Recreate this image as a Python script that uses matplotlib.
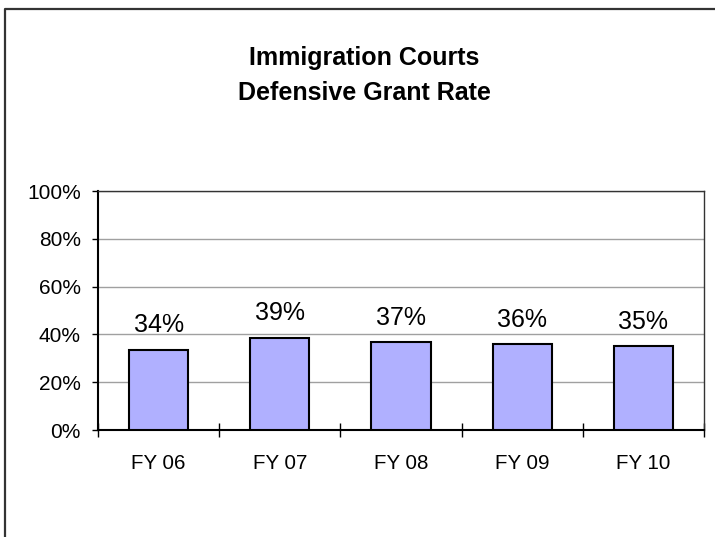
import numpy as np
import matplotlib
matplotlib.use('Agg')
import matplotlib.pyplot as plt
from matplotlib.lines import Line2D
from matplotlib.ticker import FixedLocator, PercentFormatter

plt.rcParams['font.family'] = ['Liberation Sans', 'DejaVu Sans']

# Data
years = ['FY 06', 'FY 07', 'FY 08', 'FY 09', 'FY 10']
grant_rate = [0.336, 0.386, 0.367, 0.360, 0.352]

W, H = 715, 537
fig = plt.figure(figsize=(W / 100, H / 100), dpi=100)

# plot area in pixels
left, right, top, bottom = 98, 704, 191, 430
ax = fig.add_axes([left / W, 1 - bottom / H, (right - left) / W, (bottom - top) / H])

x = np.arange(len(years))
ax.bar(x, grant_rate, width=0.49, color='#B0B0FF', edgecolor='black',
       linewidth=1.5, zorder=3)

# value labels above bars
for xi, v in zip(x, grant_rate):
    ax.annotate(f'{round(v * 100):.0f}%', (xi, v), xytext=(0, 12.5),
                textcoords='offset points', ha='center', va='baseline',
                fontsize=18)

ax.set_xlim(-0.5, len(years) - 0.5)
ax.set_ylim(0, 1)
ax.set_yticks(np.arange(0, 1.01, 0.2))
ax.yaxis.set_major_formatter(PercentFormatter(1.0, decimals=0))
ax.grid(axis='y', color='#A0A0A0', linewidth=1, zorder=0)

ax.set_xticks(x)
ax.set_xticklabels(years)
ax.xaxis.set_minor_locator(FixedLocator(np.arange(-0.5, len(years), 1.0)))
ax.tick_params(axis='x', which='major', length=0, pad=17, labelsize=14.8)
ax.tick_params(axis='x', which='minor', direction='inout', length=10, width=1)
ax.tick_params(axis='y', direction='out', length=4.5, width=1, pad=8,
               labelsize=15)

ax.spines['left'].set_linewidth(1.5)
ax.spines['bottom'].set_linewidth(1.5)
for s in ['top', 'right']:
    ax.spines[s].set_color('#333333')
    ax.spines[s].set_linewidth(1)

fig.text(364 / W, 1 - 65 / H, 'Immigration Courts', ha='center',
         va='baseline', fontsize=18, fontweight='bold')
fig.text(364 / W, 1 - 100 / H, 'Defensive Grant Rate', ha='center',
         va='baseline', fontsize=18, fontweight='bold')

# outer chart border (left and top edges visible)
fig.add_artist(Line2D([5 / W, 5 / W, 1.0], [0.0, 1 - 9 / H, 1 - 9 / H],
                      transform=fig.transFigure, color='#333333', linewidth=1.6))

fig.savefig('out.png', dpi=100)
